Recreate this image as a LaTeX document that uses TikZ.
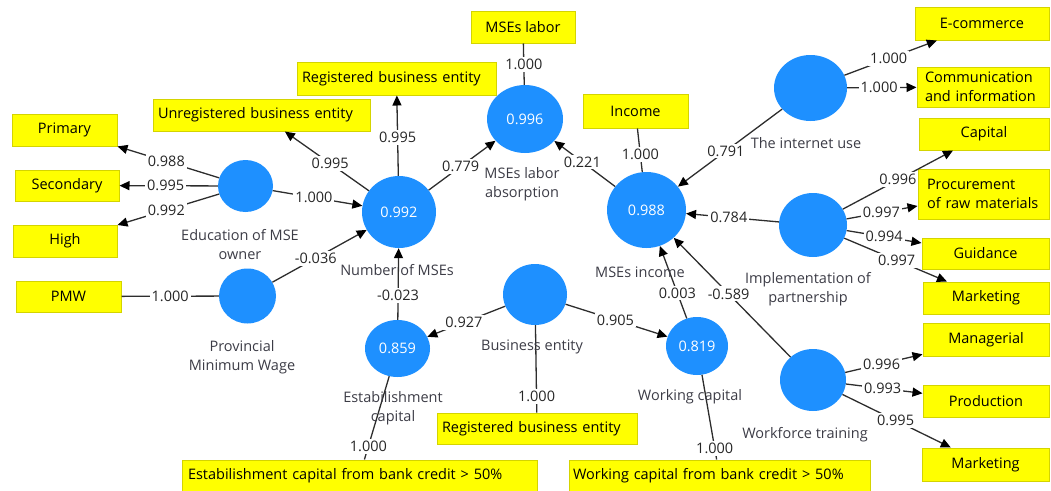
\documentclass[tikz,border=0pt]{standalone}
\usepackage{fontspec}
\setmainfont{Open Sans}
\usetikzlibrary{arrows.meta,shapes.geometric}
\definecolor{lvblue}{RGB}{30,144,255}
\definecolor{mvfill}{RGB}{255,255,0}
\definecolor{mvedge}{RGB}{212,212,0}
\definecolor{edgegray}{RGB}{45,45,45}
\definecolor{nametext}{RGB}{60,60,70}

\begin{document}
\begin{tikzpicture}[x=1pt,y=-1pt,
  every node/.style={font=\fontsize{14.5}{19}\selectfont},
  mv/.style={draw=mvedge, fill=mvfill, line width=1pt, inner sep=2pt, align=center},
  sz/.style 2 args={minimum width=#1pt, minimum height=#2pt},
  lefttext/.style 2 args={align=left, text width=#1pt, inner xsep=#2pt},
  lv/.style={ellipse, fill=lvblue, inner sep=0pt, text=white},
  lvname/.style={text=nametext, align=center, inner sep=0pt},
  conn/.style={draw=edgegray, line width=1.3pt},
  arr/.style={conn, -{Triangle[length=10pt,width=9pt,fill=black,color=black]}},
  wt/.style={fill=white, inner sep=2pt, text=black!85}
]
\useasboundingbox (0,0) rectangle (1051,490);

% ---- indicator boxes ----
\node[mv, sz={105}{32}] (prim) at (64.5,130) {Primary};
\node[mv, sz={104}{31}] (sec)  at (67,185.5) {Secondary};
\node[mv, sz={104}{32}] (high) at (65,241) {High};
\node[mv, sz={105}{31}] (pmwb) at (68.5,296.5) {PMW};
\node[mv, sz={217}{32}, lefttext={207}{5}] (unreg) at (261.5,115) {Unregistered business entity};
\node[mv, sz={199}{33}, lefttext={189}{5}] (regt) at (396.5,78.5) {Registered business entity};
\node[mv, sz={104}{32}] (laborb) at (523,27) {MSEs labor};
\node[mv, sz={105}{34}] (incb) at (635.5,111) {Income};
\node[mv, sz={134}{33}] (ecom) at (982,23.5) {E-commerce};
\node[mv, sz={132}{40}, lefttext={116}{8}] (comm) at (983,87) {Communication\\and information};
\node[mv, sz={130}{32}] (capb) at (984,134) {Capital};
\node[mv, sz={131}{50}, lefttext={113}{9}] (proc) at (983.5,194) {Procurement\\of raw materials};
\node[mv, sz={127}{31}] (guid) at (985.5,253.5) {Guidance};
\node[mv, sz={126}{32}] (mkta) at (986,298) {Marketing};
\node[mv, sz={126}{33}] (mgr) at (986,339.5) {Managerial};
\node[mv, sz={126}{32}] (prod) at (986,401) {Production};
\node[mv, sz={127}{33}] (mktb) at (985.5,464.5) {Marketing};
\node[mv, sz={200}{31}, lefttext={190}{5}] (regb) at (537,428.5) {Registered business entity};
\node[mv, sz={355}{32}, lefttext={343}{6}] (estb) at (359.5,476) {Estabilishment capital from bank credit > 50\%};
\node[mv, sz={301}{32}, lefttext={293}{4}] (wcb) at (719.5,476) {Working capital from bank credit > 50\%};

% ---- constructs ----
\node[lv, sz={55}{52}] (edu)  at (245.5,186) {};
\node[lv, sz={57}{55}] (pmwc) at (247.5,296) {};
\node[lv, sz={74}{72}] (num)  at (399,212) {0.992};
\node[lv, sz={76}{68}] (abs)  at (525,119) {0.996};
\node[lv, sz={79}{76}] (inc)  at (646.5,210) {0.988};
\node[lv, sz={73}{66}] (inet) at (810.5,88) {};
\node[lv, sz={68}{64}] (impl) at (813,225) {};
\node[lv, sz={66}{62}] (work) at (813,380) {};
\node[lv, sz={64}{61}] (bus)  at (535,294.5) {};
\node[lv, sz={65}{57}] (est)  at (397.5,348.5) {0.859};
\node[lv, sz={62}{58}] (wc)   at (697,346) {0.819};

% ---- outer loadings ----
\draw[arr] (edu) -- node[wt, pos=0.52] {0.988} (prim);
\draw[arr] (edu) -- node[wt, pos=0.53] {0.995} (sec);
\draw[arr] (edu) -- node[wt, pos=0.52] {0.992} (high);
\draw[conn] (pmwb) -- node[wt, pos=0.5] {1.000} (pmwc);
\draw[arr] (num) -- node[wt, pos=0.46] {0.995} (unreg);
\draw[arr] (num) -- node[wt, pos=0.48] {0.995} (regt);
\draw[conn] (laborb) -- node[wt, pos=0.5] {1.000} (abs);
\draw[conn] (incb) -- node[wt, pos=0.6] {1.000} (inc);
\draw[arr] (inet) -- node[wt, pos=0.48] {1.000} (ecom);
\draw[arr] (inet) -- node[wt, pos=0.46] {1.000} (comm);
\draw[arr] (impl) -- node[wt, pos=0.5] {0.996} (capb);
\draw[arr] (impl) -- node[wt, pos=0.49] {0.997} (proc);
\draw[arr] (impl) -- node[wt, pos=0.5] {0.994} (guid);
\draw[arr] (impl) -- node[wt, pos=0.51] {0.997} (mkta);
\draw[arr] (work) -- node[wt, pos=0.47] {0.996} (mgr);
\draw[arr] (work) -- node[wt, pos=0.48] {0.993} (prod);
\draw[arr] (work) -- node[wt, pos=0.49] {0.995} (mktb);
\draw[conn] (bus) -- node[wt, pos=0.82] {1.000} (regb);
\draw[conn] (est) -- node[wt, pos=0.84] {1.000} (estb);
\draw[conn] (wc) -- node[wt, pos=0.87] {1.000} (wcb);

% ---- path coefficients ----
\draw[arr] (edu) -- node[wt, pos=0.46] {1.000} (num);
\draw[arr] (pmwc) -- node[wt, pos=0.46] {-0.036} (num);
\draw[arr] (num) -- node[wt, pos=0.48] {0.779} (abs);
\draw[arr] (inc) -- node[wt, pos=0.54] {0.221} (abs);
\draw[arr] (inet) -- node[wt, pos=0.54] {0.791} (inc);
\draw[arr] (impl) -- node[wt, pos=0.54] {0.784} (inc);
\draw[arr] (work) -- node[wt, pos=0.53] {-0.589} (inc);
\draw[arr] (wc) -- node[wt, pos=0.35] {0.003} (inc);
\draw[arr] (bus) -- node[wt, pos=0.53] {0.927} (est);
\draw[arr] (bus) -- node[wt, pos=0.49] {0.905} (wc);
\draw[arr] (est) -- node[wt, pos=0.34] {-0.023} (num);

% ---- construct names ----
\node[lvname] (eduname)  at (240,245) {Education of MSE\\owner};
\node[lvname] (pmwname)  at (242,357) {Provincial\\Minimum Wage};
\node[lvname] (numname)  at (397,270) {Number of MSEs};
\node[lvname] (absname)  at (522,184) {MSEs labor\\absorption};
\node[lvname] (incname)  at (640,272) {MSEs income};
\node[lvname] (inetname) at (806,143) {The internet use};
\node[lvname] (implname) at (808,289) {Implementation of\\partnership};
\node[lvname] (workname) at (805,435) {Workforce training};
\node[lvname] (busname)  at (532,347) {Business entity};
\node[lvname] (estname)  at (393,408) {Estabilishment\\capital};
\node[lvname] (wcname)   at (690,397) {Working capital};
\end{tikzpicture}
\end{document}
